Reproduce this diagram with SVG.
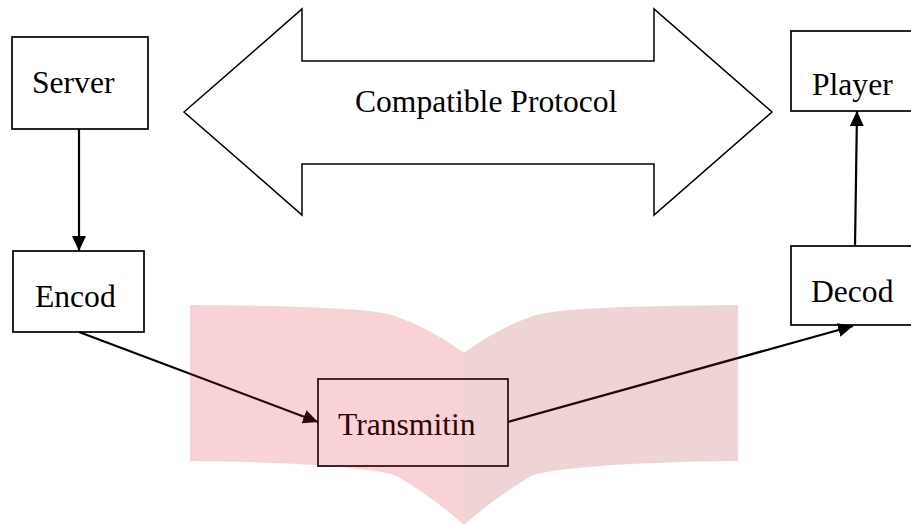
<svg xmlns="http://www.w3.org/2000/svg" width="911" height="525" viewBox="0 0 911 525">
<defs>
<style>
.box{fill:#fff;stroke:#000;stroke-width:1.7}
.t{font-family:"Liberation Serif","Times New Roman",serif;font-size:31.6px;fill:#000}
.c{stroke:#000;stroke-width:2.2;fill:none}
</style>
<marker id="ah" markerWidth="15" markerHeight="14" refX="15" refY="7" orient="auto" markerUnits="userSpaceOnUse">
<path d="M0,0 L15,7 L0,14 Z" fill="#000"/>
</marker>
</defs>
<rect width="911" height="525" fill="#fff"/>
<g id="protocol">
<polygon points="184,112 302,9 302,61 654,61 654,9 772,112 654,215 654,164 302,164 302,215" fill="#fff" stroke="#000" stroke-width="1.5"/>
<text class="t" x="355" y="112">Compatible Protocol</text>
</g>
<g id="server"><rect class="box" x="12" y="37" width="136" height="92"/><text class="t" x="32" y="93">Server</text></g>
<g id="encod"><rect class="box" x="13" y="251" width="131" height="81"/><text class="t" x="35" y="307">Encod</text></g>
<g id="transmitin"><rect class="box" x="318" y="379" width="190" height="87"/><text class="t" x="338" y="435">Transmitin</text></g>
<g id="decod"><rect class="box" x="791" y="246" width="130" height="79"/><text class="t" x="811" y="302">Decod</text></g>
<g id="player"><rect class="box" x="791" y="31" width="130" height="80"/><text class="t" x="812" y="95">Player</text></g>
<g id="connectors">
<line class="c" x1="79" y1="129" x2="79" y2="251" marker-end="url(#ah)"/>
<line class="c" x1="79" y1="332" x2="318" y2="422" marker-end="url(#ah)"/>
<line class="c" x1="508" y1="422" x2="853" y2="326" marker-end="url(#ah)"/>
<line class="c" x1="855" y1="246" x2="857" y2="111" marker-end="url(#ah)"/>
</g>
<g id="watermark">
<path d="M190,305 C300,306 370,308 395,316 Q430,328 464,353 L464,525 Q430,495 395,475 C370,468 300,462 190,461 Z" fill="rgb(225,30,45)" fill-opacity="0.2"/>
<path d="M738,305 C628,306 558,308 533,316 Q498,328 464,353 L464,525 Q498,495 533,475 C558,468 628,462 738,461 Z" fill="rgb(175,40,50)" fill-opacity="0.2"/>
</g>
</svg>
